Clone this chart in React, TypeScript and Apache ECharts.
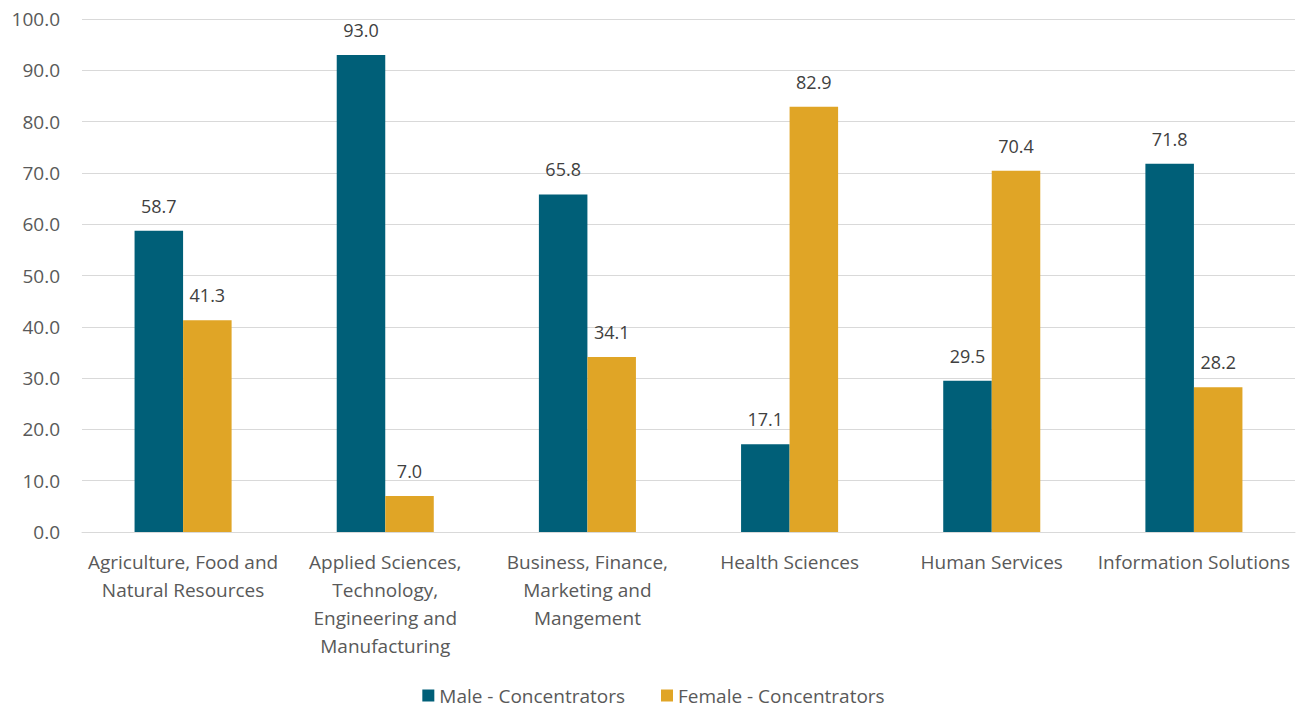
import React, { useEffect, useRef } from "react";
import * as echarts from "echarts";

const categories = [
  "Agriculture, Food and\nNatural Resources",
  "Applied Sciences,\nTechnology,\nEngineering and\nManufacturing",
  "Business, Finance,\nMarketing and\nMangement",
  "Health Sciences",
  "Human Services",
  "Information Solutions",
];
const maleValues = [58.7, 93.0, 65.8, 17.1, 29.5, 71.8];
const femaleValues = [41.3, 7.0, 34.1, 82.9, 70.4, 28.2];
const seriesNames = ["Male - Concentrators", "Female - Concentrators"];

const FONT = "'Open Sans', 'Noto Sans', sans-serif";
const TEXT = "#595959";

export default function App() {
  const ref = useRef<HTMLDivElement>(null);
  useEffect(() => {
    if (!ref.current) return;
    const chart = echarts.init(ref.current, undefined, { renderer: "svg" });
    const label = {
      show: true,
      position: "top",
      distance: 16,
      color: "#404040",
      fontSize: 18,
      fontFamily: FONT,
      formatter: (p: any) => Number(p.value).toFixed(1),
    };
    chart.setOption({
      animation: false,
      textStyle: { fontFamily: FONT },
      grid: { left: 82, right: 12, top: 19, bottom: 178, containLabel: false },
      legend: {
        bottom: 0,
        left: "center",
        itemWidth: 12,
        itemHeight: 12,
        itemGap: 36,
        icon: "rect",
        textStyle: { color: TEXT, fontSize: 19, fontFamily: FONT },
        data: seriesNames,
      },
      xAxis: {
        type: "category",
        data: categories,
        axisLine: { show: true, lineStyle: { color: "#d9d9d9" } },
        axisTick: { show: false },
        axisLabel: {
          color: TEXT,
          fontSize: 19,
          fontFamily: FONT,
          lineHeight: 28,
          margin: 16,
          interval: 0,
        },
      },
      yAxis: {
        type: "value",
        min: 0,
        max: 100,
        interval: 10,
        axisLine: { show: false },
        axisTick: { show: false },
        splitLine: { lineStyle: { color: "#d9d9d9" } },
        axisLabel: {
          color: TEXT,
          fontSize: 19,
          fontFamily: FONT,
          margin: 22,
          formatter: (v: number) => v.toFixed(1),
        },
      },
      series: [
        {
          name: seriesNames[0],
          type: "bar",
          data: maleValues,
          itemStyle: { color: "#005F78" },
          barGap: "0%",
          barCategoryGap: "52%",
          label,
        },
        {
          name: seriesNames[1],
          type: "bar",
          data: femaleValues,
          itemStyle: { color: "#E0A526" },
          label,
        },
      ],
    });
    return () => chart.dispose();
  }, []);
  return (
    <div
      ref={ref}
      style={{ position: "absolute", left: 0, top: 0, width: 1307, height: 710 }}
    />
  );
}
